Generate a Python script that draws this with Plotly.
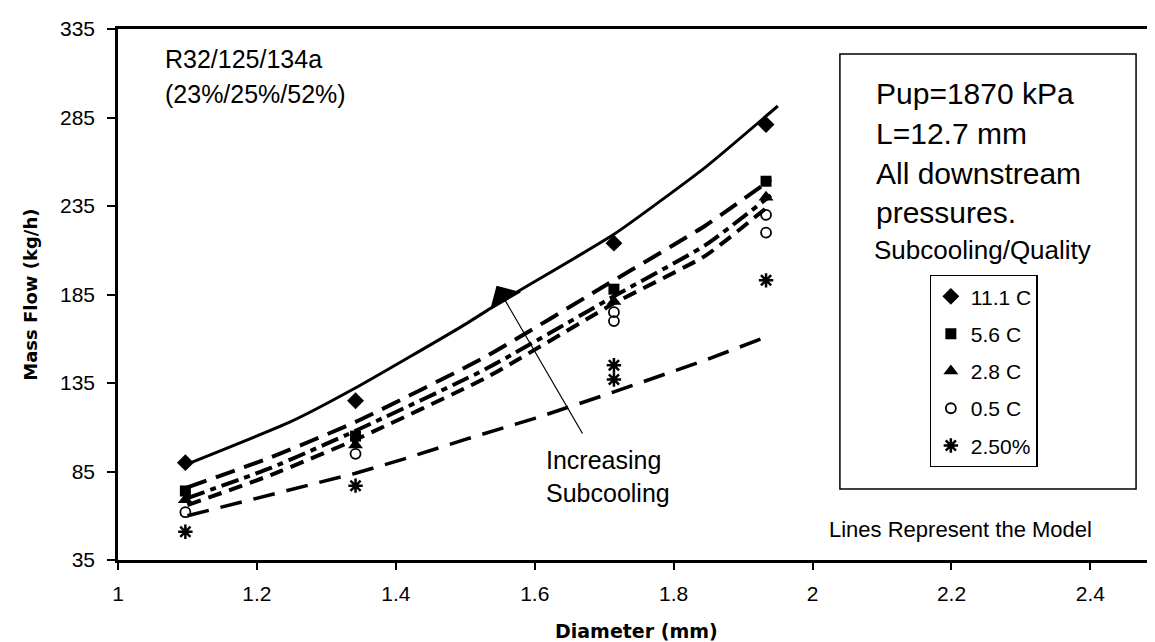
import plotly.graph_objects as go

# ---------------- data ----------------
x_ticks = [1, 1.2, 1.4, 1.6, 1.8, 2, 2.2, 2.4]
x_tick_labels = ["1", "1.2", "1.4", "1.6", "1.8", "2", "2.2", "2.4"]
y_ticks = [35, 85, 135, 185, 235, 285, 335]

# measured points (diameter mm, mass flow kg/h)
d_111 = [1.097, 1.342, 1.714, 1.933]
m_111 = [90, 125, 214, 281]
d_56 = [1.097, 1.342, 1.714, 1.933]
m_56 = [74, 105, 188, 249]
d_28 = [1.097, 1.342, 1.714, 1.933]
m_28 = [69, 100, 181, 240]
d_05 = [1.097, 1.342, 1.714, 1.714, 1.933, 1.933]
m_05 = [62, 95, 175, 170, 230, 220]
d_q = [1.097, 1.342, 1.714, 1.714, 1.933]
m_q = [51, 77, 145, 137, 193]

# model lines
md_111 = [1.105, 1.248, 1.341, 1.495, 1.56, 1.714, 1.846, 1.95]
mv_111 = [90, 113, 132, 167, 183, 219, 257, 291.5]
md_up = [1.1, 1.22, 1.342, 1.53, 1.714, 1.846, 1.94]
mv_56 = [76, 93, 113, 150, 193, 224, 250]
mv_28 = [70, 87, 108, 143, 184, 213, 241]
mv_05 = [66, 83, 103, 138, 180, 207, 236]
md_q = [1.1, 1.342, 1.416, 1.499, 1.6, 1.707, 1.846, 1.94]
mv_q = [60, 84, 92.6, 103, 115, 129, 148, 162]

FONT = "Liberation Sans, Arial, sans-serif"
BOLD_FONT = "DejaVu Sans"
BLACK = "black"

fig = go.Figure()

# model lines
fig.add_trace(go.Scatter(x=md_111, y=mv_111, mode="lines", showlegend=False,
                         line=dict(color=BLACK, width=3, shape="spline", smoothing=0.5)))
fig.add_trace(go.Scatter(x=md_up, y=mv_56, mode="lines", showlegend=False,
                         line=dict(color=BLACK, width=4, dash="20px,10px",
                                   shape="spline", smoothing=0.5)))
fig.add_trace(go.Scatter(x=md_up, y=mv_28, mode="lines", showlegend=False,
                         line=dict(color=BLACK, width=4, dash="18px,6px,6px,6px",
                                   shape="spline", smoothing=0.5)))
fig.add_trace(go.Scatter(x=md_up, y=mv_05, mode="lines", showlegend=False,
                         line=dict(color=BLACK, width=4, dash="14px,8px",
                                   shape="spline", smoothing=0.5)))
fig.add_trace(go.Scatter(x=md_q, y=mv_q, mode="lines", showlegend=False,
                         line=dict(color=BLACK, width=3.5, dash="22px,12px")))

# measured points
fig.add_trace(go.Scatter(x=d_111, y=m_111, mode="markers", name="11.1 C", legendgroup="a",
                         marker=dict(symbol="diamond", size=13, color=BLACK)))
fig.add_trace(go.Scatter(x=d_56, y=m_56, mode="markers", name="5.6 C", legendgroup="b",
                         marker=dict(symbol="square", size=11, color=BLACK)))
fig.add_trace(go.Scatter(x=d_28, y=m_28, mode="markers", name="2.8 C", legendgroup="c",
                         marker=dict(symbol="triangle-up", size=13, color=BLACK)))
fig.add_trace(go.Scatter(x=d_05, y=m_05, mode="markers", name="0.5 C", legendgroup="d",
                         marker=dict(symbol="circle-open", size=10, color=BLACK,
                                     line=dict(width=1.8, color=BLACK))))
fig.add_trace(go.Scatter(x=d_q, y=m_q, mode="markers", name="2.50%", legendgroup="e",
                         marker=dict(symbol="asterisk-open", size=12, color=BLACK,
                                     line=dict(width=2.5, color=BLACK))))

L, R, T, B = 110, 5, 21, 90
W, H = 1155, 642
pw, ph = W - L - R, H - T - B


def px(xp):
    return (xp - L) / pw


def py(yp):
    return (H - B - yp) / ph


annotations = [
    dict(text="R32/125/134a", x=px(155), y=py(51), size=25),
    dict(text="(23%/25%/52%)", x=px(155), y=py(86), size=25),
    dict(text="Pup=1870 kPa", x=px(868), y=py(86), size=30),
    dict(text="L=12.7 mm", x=px(868), y=py(126), size=30),
    dict(text="All downstream", x=px(868), y=py(165), size=30),
    dict(text="pressures.", x=px(868), y=py(204), size=30),
    dict(text="Subcooling/Quality", x=px(866), y=py(242), size=26),
    dict(text="Increasing<br>Subcooling", x=px(537), y=py(468), size=25),
]
ann_objs = []
for a in annotations:
    ann_objs.append(dict(
        text=a["text"], x=a["x"], y=a["y"], xref="paper", yref="paper",
        xanchor="left", yanchor="middle", align="left", showarrow=False,
        font=dict(family=FONT, size=a["size"], color=BLACK)))

ann_objs.append(dict(text="Lines Represent the Model", x=px(1089), y=py(521),
                     xref="paper", yref="paper", xanchor="right", yanchor="middle",
                     showarrow=False, font=dict(family=FONT, size=22, color=BLACK)))
# axis titles
ann_objs.append(dict(text="<b>Diameter (mm)</b>", x=0.5, y=py(623), xref="paper", yref="paper",
                     xanchor="center", yanchor="middle", showarrow=False,
                     font=dict(family=BOLD_FONT, size=19, color=BLACK)))
ann_objs.append(dict(text="<b>Mass Flow (kg/h)</b>", x=px(22), y=0.5, xref="paper", yref="paper",
                     xanchor="center", yanchor="middle", showarrow=False, textangle=-90,
                     font=dict(family=BOLD_FONT, size=18, color=BLACK)))
# arrow
ann_objs.append(dict(text="", x=1.545, y=190, ax=1.67, ay=105.6, xref="x", yref="y",
                     axref="x", ayref="y", showarrow=True, arrowhead=1, arrowsize=5,
                     arrowwidth=1.2, arrowcolor=BLACK))

fig.update_layout(
    width=W, height=H,
    margin=dict(l=L, r=R, t=T, b=B),
    paper_bgcolor="white", plot_bgcolor="white",
    font=dict(family=FONT, color=BLACK),
    annotations=ann_objs,
    shapes=[dict(type="rect", xref="paper", yref="paper",
                 x0=px(834), x1=px(1131), y0=py(481), y1=py(46),
                 line=dict(color=BLACK, width=1.5), fillcolor="rgba(0,0,0,0)")],
    legend=dict(x=px(924), y=py(267), xanchor="left", yanchor="top",
                bordercolor=BLACK, borderwidth=1.2, bgcolor="white",
                font=dict(family=FONT, size=21, color=BLACK),
                traceorder="grouped", tracegroupgap=7, itemwidth=30),
    xaxis=dict(range=[1, 2.493], tickvals=x_ticks, ticktext=x_tick_labels,
               showgrid=False, zeroline=False, showline=True, linecolor=BLACK,
               linewidth=2.5, mirror=True, ticks="outside", ticklen=7, tickwidth=1.5,
               tickcolor=BLACK, tickfont=dict(family=FONT, size=21, color=BLACK),
               ticklabelstandoff=6),
    yaxis=dict(range=[35, 335], tickvals=y_ticks,
               showgrid=False, zeroline=False, showline=True, linecolor=BLACK,
               linewidth=2.5, mirror=True, ticks="outside", ticklen=8, tickwidth=1.5,
               tickcolor=BLACK, tickfont=dict(family=FONT, size=21, color=BLACK),
               ticklabelstandoff=8),
)

fig.write_html("out.html")
